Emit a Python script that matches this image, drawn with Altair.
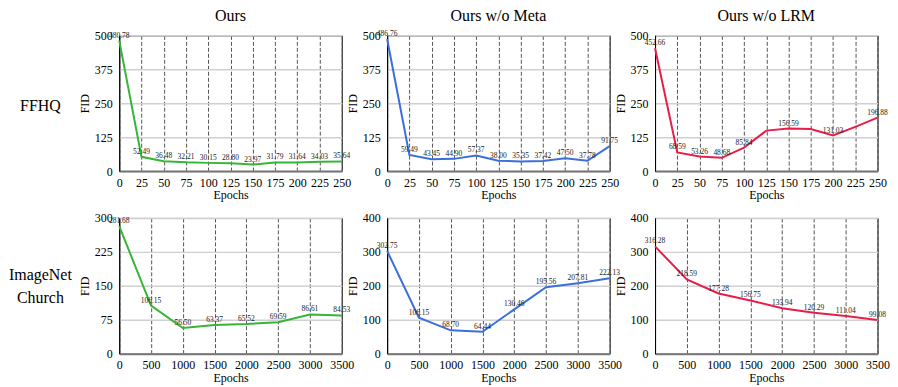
import altair as alt
import pandas as pd

FONT = "Liberation Serif"

epochs_ffhq = [0, 25, 50, 75, 100, 125, 150, 175, 200, 225, 250]
epochs_church = [0, 500, 1000, 1500, 2000, 2500, 3000, 3500]

ffhq_ours = [480.78, 52.49, 36.48, 32.21, 30.15, 28.80, 23.97, 31.79, 31.64, 34.03, 35.64]
ffhq_meta = [486.76, 59.49, 43.45, 44.90, 57.37, 38.00, 35.35, 37.42, 47.50, 37.78, 91.75]
ffhq_lrm = [452.66, 68.59, 53.26, 48.68, 85.84, 149.0, 156.59, 155.0, 131.03, 163.0, 196.88]
ffhq_lrm_show = [1, 1, 1, 1, 1, 0, 1, 0, 1, 0, 1]

church_ours = [281.68, 106.15, 56.50, 63.37, 65.52, 69.59, 86.61, 84.53]
church_meta = [302.75, 106.15, 68.70, 64.44, 130.46, 195.56, 207.81, 222.13]
church_lrm = [316.28, 218.59, 177.28, 156.75, 133.94, 120.29, 111.04, 99.08]

titles = ["Ours", "Ours w/o Meta", "Ours w/o LRM"]
row_labels = ["FFHQ", "ImageNet\nChurch"]
colors = ["#37b536", "#3a6fdc", "#e81e4a"]

PW, PH = 223, 136


def panel(epochs, fid, show, color, xmax, xstep, ymax, ystep, title=None):
    df = pd.DataFrame({
        "Epochs": epochs,
        "FID": fid,
        "label": [f"{v:.2f}" if s else "" for v, s in zip(fid, show)],
    })
    x = alt.X(
        "Epochs:Q",
        scale=alt.Scale(domain=[0, xmax], nice=False),
        axis=alt.Axis(
            values=list(range(0, xmax + 1, xstep)), format="d",
            grid=True, gridColor="#555555", gridDash=[4, 2], gridWidth=1,
            ticks=False, domainColor="#777777", domainWidth=2,
            labelFont=FONT, labelFontSize=12, labelColor="black",
            labelPadding=6, labelFlush=False, labelOverlap=False,
            title="Epochs", titleFont=FONT, titleFontSize=12,
            titleFontWeight="normal", titleColor="black", titlePadding=2,
        ),
    )
    y = alt.Y(
        "FID:Q",
        scale=alt.Scale(domain=[0, ymax], nice=False),
        axis=alt.Axis(
            values=list(range(0, ymax + 1, ystep)), format="d",
            grid=True, gridColor="#d0d0d0", gridWidth=1.5,
            ticks=False, domainColor="black", domainWidth=1,
            labelFont=FONT, labelFontSize=12, labelColor="black",
            labelPadding=7, labelOverlap=False,
            title="FID", titleFont=FONT, titleFontSize=12,
            titleFontWeight="normal", titleColor="black", titlePadding=3,
        ),
    )
    base = alt.Chart(df).encode(x=x, y=y)
    line = base.mark_line(color=color, strokeWidth=2)
    text = base.mark_text(
        font=FONT, fontSize=7.5, baseline="alphabetic", dy=-3, color="#222222"
    ).encode(text="label:N")
    layers = [line, text]
    if title:
        tdf = pd.DataFrame({"t": [title]})
        layers.append(alt.Chart(tdf).mark_text(
            font=FONT, fontSize=16, baseline="alphabetic", align="center",
            color="black").encode(text="t:N", x=alt.value(PW / 2),
                                  y=alt.value(-14)))
    ch = alt.layer(*layers).properties(
        width=PW, height=PH,
        view=alt.ViewBackground(stroke="black", strokeWidth=1),
    )
    return ch


def label_chart(t, ypos):
    return alt.Chart(pd.DataFrame({"t": [t]})).mark_text(
        font=FONT, fontSize=16, lineBreak="\n", align="center",
        baseline="middle", lineHeight=23, color="black"
    ).encode(text="t:N", x=alt.value(30.5), y=alt.value(ypos)).properties(
        width=63.5, height=PH, view=alt.ViewBackground(stroke="transparent"))


ones11 = [1] * len(epochs_ffhq)
ones8 = [1] * len(epochs_church)

chart = alt.concat(
    label_chart(row_labels[0], 71),
    panel(epochs_ffhq, ffhq_ours, ones11, colors[0], 250, 25, 500, 125, titles[0]),
    panel(epochs_ffhq, ffhq_meta, ones11, colors[1], 250, 25, 500, 125, titles[1]),
    panel(epochs_ffhq, ffhq_lrm, ffhq_lrm_show, colors[2], 250, 25, 500, 125, titles[2]),
    label_chart(row_labels[1], 57),
    panel(epochs_church, church_ours, ones8, colors[0], 3500, 500, 300, 75),
    panel(epochs_church, church_meta, ones8, colors[1], 3500, 500, 400, 100),
    panel(epochs_church, church_lrm, ones8, colors[2], 3500, 500, 400, 100),
    columns=4,
    spacing={"row": 47, "column": 45.5},
    bounds="flush",
).properties(
    padding={"left": 0, "top": -1, "right": 0, "bottom": 0},
    background="white",
)

chart.save("out.html", embed_options={"renderer": "svg", "actions": False})
